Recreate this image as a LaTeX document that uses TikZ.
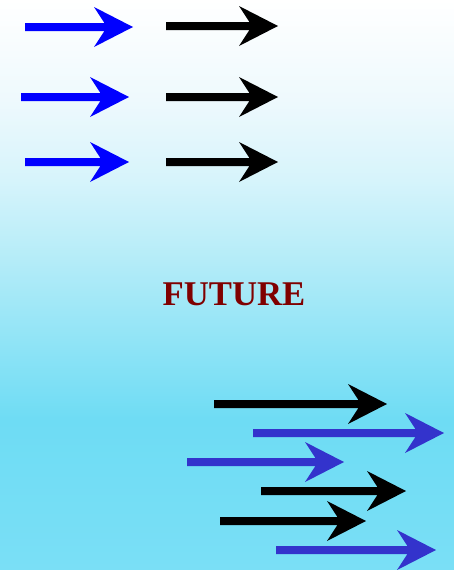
\documentclass[tikz,border=0pt]{standalone}
\usepackage{fontspec}
\setmainfont{Liberation Serif}
\definecolor{bgA}{HTML}{FFFFFF}
\definecolor{bgB}{HTML}{EEF9FD}
\definecolor{bgC}{HTML}{D6F4FB}
\definecolor{bgD}{HTML}{B4ECF8}
\definecolor{bgG}{HTML}{8CE3F6}
\definecolor{bgE}{HTML}{6EDCF4}
\definecolor{bgF}{HTML}{7ADFF6}
\definecolor{pureblue}{HTML}{0000FF}
\definecolor{slateblue}{HTML}{3333CC}
\definecolor{darkred}{HTML}{800000}
\newcommand{\fatarrow}[4]{%
  \fill[#4] (#1,#3-4) -- (#2-28.6,#3-4) -- (#2-39,#3-20) -- (#2,#3)
    -- (#2-39,#3+20) -- (#2-28.6,#3+4) -- (#1,#3+4) -- cycle;}
\begin{document}
\begin{tikzpicture}[x=1pt,y=-1pt,
  title/.style={font=\fontsize{34.7}{40}\selectfont\bfseries, text=darkred, inner sep=0pt}]
\useasboundingbox (0,0) rectangle (454,570);
% background gradient
\shade[top color=bgA, bottom color=bgB] (0,0) rectangle (454,100.5);
\shade[top color=bgB, bottom color=bgC] (0,100) rectangle (454,180.5);
\shade[top color=bgC, bottom color=bgD] (0,180) rectangle (454,260.5);
\shade[top color=bgD, bottom color=bgG] (0,260) rectangle (454,350.5);
\shade[top color=bgG, bottom color=bgE] (0,350) rectangle (454,420.5);
\shade[top color=bgE, bottom color=bgF] (0,420) rectangle (454,570);
% top group
\fatarrow{25}{133}{27}{pureblue}
\fatarrow{166}{278}{26}{black}
\fatarrow{21}{129}{97}{pureblue}
\fatarrow{166}{278}{97}{black}
\fatarrow{25}{129}{162}{pureblue}
\fatarrow{166}{278}{162}{black}
% title
\node[title] (future) at (234,294.5) {FUTURE};
% bottom group
\fatarrow{214}{387}{404}{black}
\fatarrow{253}{444}{433}{slateblue}
\fatarrow{187}{344}{462}{slateblue}
\fatarrow{261}{406}{491}{black}
\fatarrow{220}{366}{521}{black}
\fatarrow{276}{436}{550}{slateblue}
\end{tikzpicture}
\end{document}
